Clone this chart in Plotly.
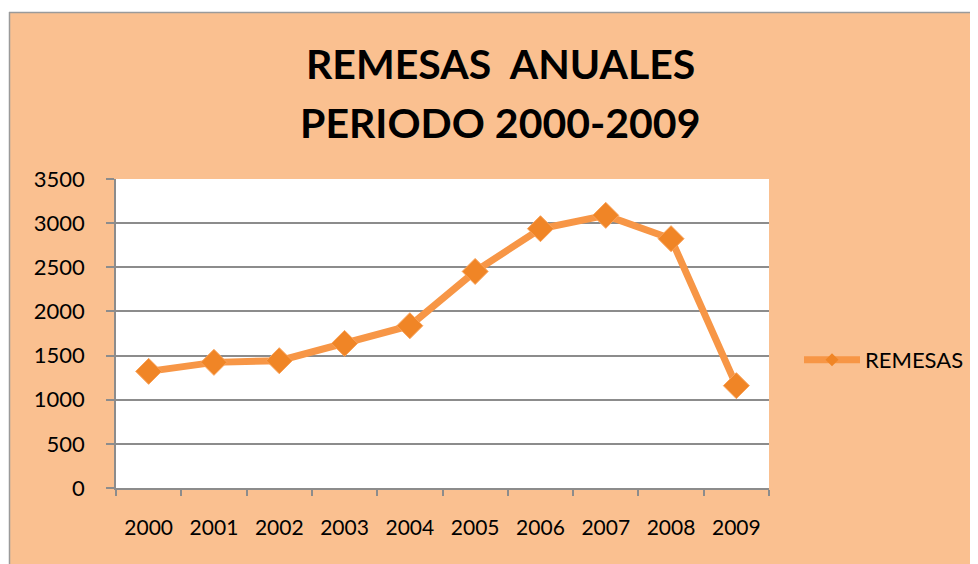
import plotly.graph_objects as go

years = ["2000", "2001", "2002", "2003", "2004", "2005", "2006", "2007", "2008", "2009"]
remesas = [1321, 1423, 1442, 1638, 1838, 2453, 2937, 3088, 2824, 1159]
y_ticks = [0, 500, 1000, 1500, 2000, 2500, 3000, 3500]
title_lines = ["REMESAS  ANUALES", "PERIODO 2000-2009"]

PEACH = "#FAC090"
ORANGE = "#F79646"
GRAY = "#8C8C8C"
FONT = "Lato"

# page body has an 8px margin; figure sized so it fills the rest of the window
OFF = 8
W, H = 978 - OFF, 564 - OFF
L, R, T, B = 116 - OFF, 978 - 769, 179 - OFF, 564 - 488
pw, ph = W - L - R, H - T - B

fig = go.Figure()
fig.add_trace(go.Scatter(
    x=years, y=remesas, name="REMESAS", mode="lines+markers", showlegend=False,
    line=dict(color=ORANGE, width=7),
    marker=dict(symbol="diamond", size=20, color="#F08526",
                line=dict(color="#F9A25A", width=1)),
))
# legend entry (small marker as in the original)
fig.add_trace(go.Scatter(
    x=[years[0]], y=[None], name="REMESAS", mode="lines+markers", showlegend=True,
    line=dict(color=ORANGE, width=7),
    marker=dict(symbol="diamond", size=10, color="#F08526"),
))


def px_x(v):
    return (v - OFF - L) / pw


def px_y(v):
    return (H - B - (v - OFF)) / ph


shapes = [
    dict(type="rect", xref="paper", yref="paper", x0=px_x(0), x1=px_x(978), y0=px_y(12), y1=px_y(0),
         fillcolor="white", line=dict(width=0), layer="above"),
    dict(type="rect", xref="paper", yref="paper", x0=px_x(0), x1=px_x(9), y0=px_y(564), y1=px_y(0),
         fillcolor="white", line=dict(width=0), layer="above"),
    dict(type="line", xref="paper", yref="paper", x0=px_x(9), x1=px_x(978), y0=px_y(12.5), y1=px_y(12.5),
         line=dict(color="#9A9A9A", width=1.5), layer="above"),
    dict(type="line", xref="paper", yref="paper", x0=px_x(9.5), x1=px_x(9.5), y0=px_y(564), y1=px_y(12),
         line=dict(color="#9A9A9A", width=1.5), layer="above"),
]

annotations = [
    dict(text="<b>%s</b>" % t, xref="paper", yref="paper", x=px_x(500), y=px_y(yc),
         xanchor="center", yanchor="middle", showarrow=False,
         font=dict(family=FONT, size=41, color="black"))
    for t, yc in zip(title_lines, [63, 122])
]

fig.update_layout(
    width=W, height=H,
    margin=dict(l=L, r=R, t=T, b=B, autoexpand=False),
    paper_bgcolor=PEACH, plot_bgcolor="white",
    font=dict(family=FONT, size=21, color="black"),
    showlegend=True,
    legend=dict(xref="container", yref="container",
                x=(799 - OFF) / W, y=1 - (360 - OFF) / H, xanchor="left", yanchor="middle",
                bgcolor="rgba(0,0,0,0)", font=dict(size=22), itemwidth=56),
    shapes=shapes,
    annotations=annotations,
)
fig.update_xaxes(
    type="category", tickmode="array", tickvals=years, ticktext=years,
    range=[-0.5, len(years) - 0.5],
    showline=True, linecolor=GRAY, linewidth=1.5, showgrid=False,
    ticks="outside", ticklen=6, tickcolor=GRAY, tickwidth=1.5, tickson="boundaries",
    ticklabelstandoff=20, tickfont=dict(size=21),
)
fig.update_yaxes(
    range=[0, 3500], tickmode="array", tickvals=y_ticks,
    showline=True, linecolor=GRAY, linewidth=1.5,
    showgrid=True, gridcolor=GRAY, gridwidth=1.5, zeroline=False,
    ticks="outside", ticklen=8, tickcolor=GRAY, tickwidth=1.5,
    ticklabelstandoff=17, tickfont=dict(size=22),
)

fig.write_html("out.html")
